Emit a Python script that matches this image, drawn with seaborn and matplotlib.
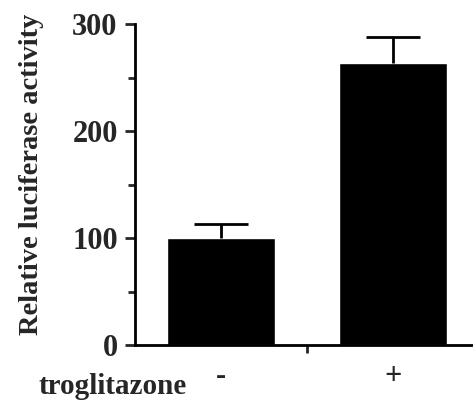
import numpy as np
import pandas as pd
import matplotlib
matplotlib.use("Agg")
import matplotlib.pyplot as plt
import seaborn as sns

# values
treatment = ['-', '+']
activity = [100, 264]
error_up = [13, 24]
y_ticks = [0, 100, 200, 300]

df = pd.DataFrame({'troglitazone': treatment, 'activity': activity})

sns.set_style("ticks")
plt.rcParams['font.family'] = ['Liberation Serif', 'DejaVu Serif']
plt.rcParams['font.weight'] = 'bold'

fig = plt.figure(figsize=(4.73, 4.00), dpi=100)
ax = fig.add_axes([0.2854, 0.1375, 0.7146, 0.8025])

sns.barplot(data=df, x='troglitazone', y='activity', color='black',
            width=0.626, errorbar=None, saturation=1, ax=ax)
eb = ax.errorbar(range(len(treatment)), activity,
                 yerr=[np.zeros(len(error_up)), error_up],
                 fmt='none', ecolor='black', elinewidth=2, capsize=19.5,
                 capthick=2, zorder=3)
# only the upper caps are wanted
eb[1][0].set_visible(False)

ax.set_xlim(-0.496, 1.464)
ax.set_ylim(0, 300)
sns.despine(ax=ax)
for s in ['left', 'bottom']:
    ax.spines[s].set_linewidth(2)
    ax.spines[s].set_color('black')

ax.set_yticks(y_ticks)
ax.set_yticks([50, 150, 250], minor=True)
ax.tick_params(axis='y', which='major', length=7.5, width=2, pad=5,
               labelsize=22)
ax.tick_params(axis='y', which='minor', length=5, width=2)

ax.set_xticks([0, 1])
ax.set_xticklabels(treatment, fontsize=22, fontweight='bold')
ax.set_xticks([0.5], minor=True)
ax.tick_params(axis='x', which='major', length=0, pad=12)
ax.tick_params(axis='x', which='minor', length=6, width=2)

ax.set_xlabel('')
ax.set_ylabel('Relative luciferase activity', fontsize=20.5,
              fontweight='bold')
ax.yaxis.set_label_coords(-0.27, 0.53)

fig.text(0.238, 0.015, 'troglitazone', fontsize=21, fontweight='bold',
         ha='center', va='baseline')

fig.savefig('out.png', dpi=100)
